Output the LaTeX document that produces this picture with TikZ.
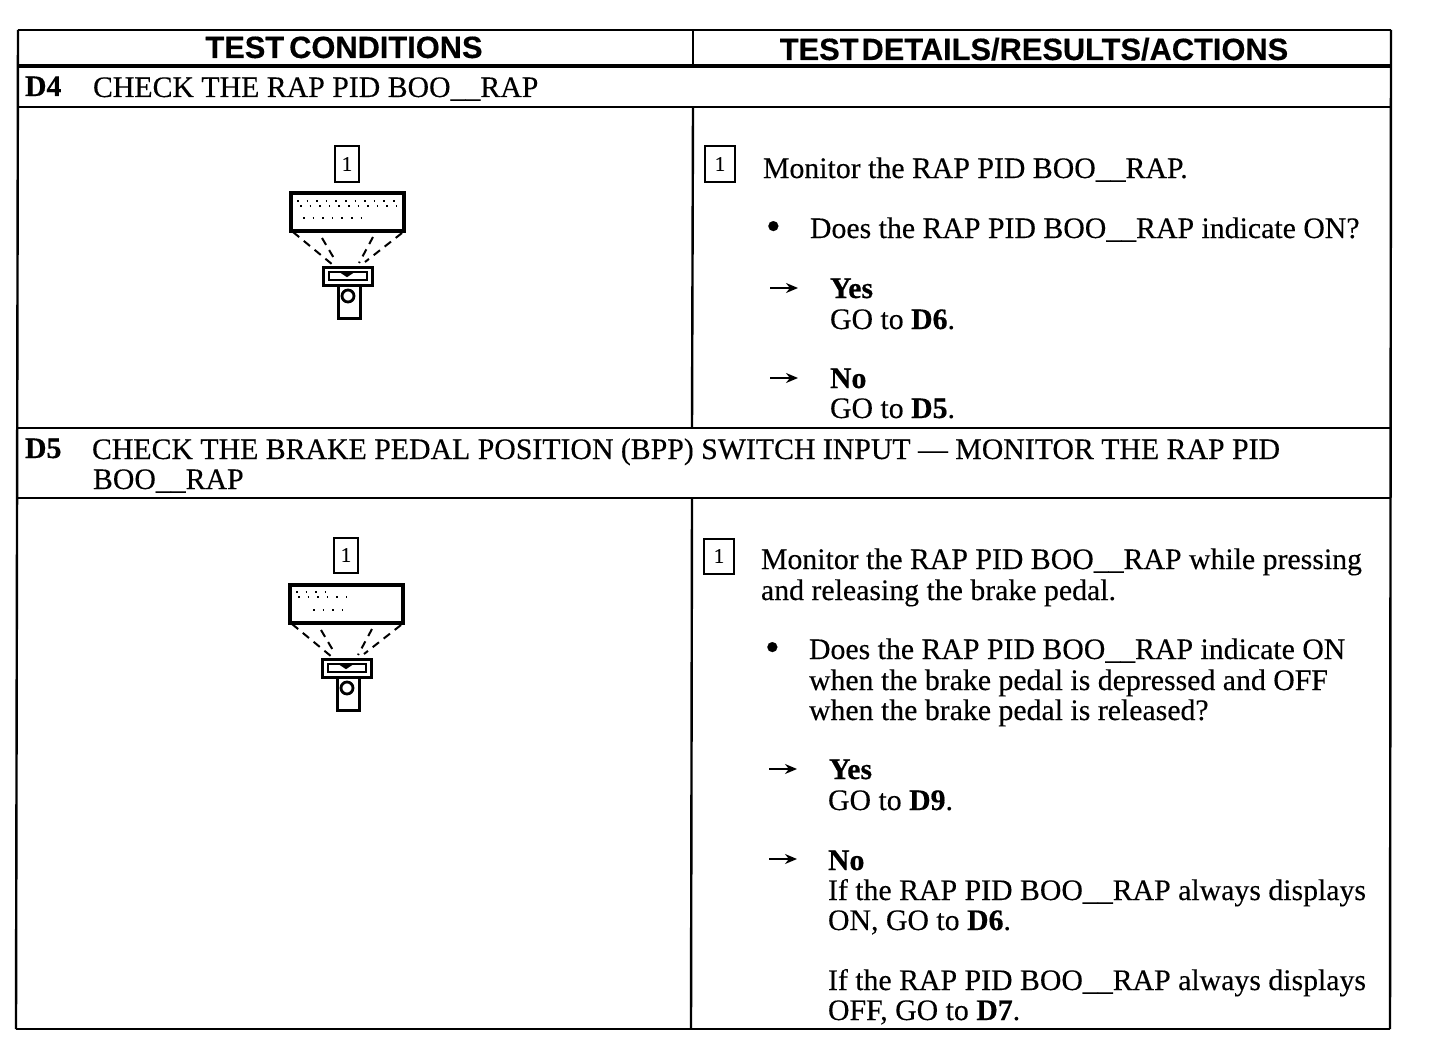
\documentclass[tikz,border=0pt]{standalone}
\usepackage{fontspec}
\setmainfont{Liberation Serif}[FakeBold=0.25, BoldFeatures={FakeBold=0.5}]
\setsansfont{Liberation Sans}[BoldFeatures={FakeBold=0.4}]
\usetikzlibrary{arrows.meta}

\tikzset{
  txt/.style={anchor=base west, inner sep=0pt, outer sep=0pt, font=\fontsize{14.9}{15}\selectfont},
  boldtxt/.style={txt, font=\fontsize{14.9}{15}\selectfont\bfseries},
  dottxt/.style={txt, font=\fontsize{21}{21}\selectfont},
  hdr/.style={anchor=base, inner sep=0pt, outer sep=0pt, font=\fontsize{15.4}{16}\selectfont\sffamily\bfseries},
  rule/.style={line width=1.2pt},
  heavyrule/.style={line width=2pt},
  numbox/.style={draw, line width=1pt, minimum width=#1, minimum height=17.5pt, inner sep=0pt, font=\fontsize{10.5}{11}\selectfont},
  goarrow/.style={line width=0.8pt, -{Stealth[length=6pt,width=5pt]}},
  toolrule/.style={line width=1.5pt},
  spots/.style={line width=0.8pt, dash pattern=on 0.8pt off 4pt}
}

% scan tool, x y of the top left of the display
\newcommand{\scantool}[2]{
  \begin{scope}[shift={(#1,#2)}]
  \draw[line width=1.6pt] (0,0) rectangle (113,38);
  \draw[line width=1pt, dash pattern=on 4pt off 3pt] (2,39) -- (42,72);
  \draw[line width=1pt, dash pattern=on 4pt off 3pt] (31,45) -- (44,67);
  \draw[line width=1pt, dash pattern=on 4pt off 3pt] (82,44) -- (68,70);
  \draw[line width=1pt, dash pattern=on 4pt off 3pt] (111,40) -- (74,69);
  \draw[toolrule] (32,74) rectangle (81,92);
  \draw[line width=1pt] (38,79) rectangle (76,87);
  \draw[line width=1pt, fill=black] (50,79) -- (56,83) -- (62,79) -- cycle;
  \draw[toolrule] (47,92) -- (47,125) -- (69,125) -- (69,92);
  \draw[line width=1.4pt] (57,103) circle (6);
  \end{scope}
}

\begin{document}
\begin{tikzpicture}[x=0.5pt, y=-0.5pt]
\useasboundingbox (0,0) rectangle (1440,1054);
%%------------ table
\draw[rule] (18,30) -- (1391,30);
\draw[rule] (18,30) -- (16,1029);
\draw[rule] (1391,30) -- (1390,1029);
\draw[rule] (16,1029) -- (1390,1029);
\draw[heavyrule] (18,66) -- (1391,66);
\draw[rule] (18,107) -- (1391,107);
\draw[rule] (17,428) -- (1391,428);
\draw[rule] (17,498) -- (1390,498);
\draw[rule] (693,30) -- (693,66);
\draw[rule] (693,107) -- (692,428);
\draw[rule] (692,498) -- (691,1029);
%%------------ heads
\node[hdr] (headleft) at (344,58) {TEST\hspace{2.5pt}CONDITIONS};
\node[hdr] (headright) at (1034,60) {TEST\hspace{1.5pt}DETAILS/RESULTS/ACTIONS};
\node[boldtxt] (dfour) at (25,96) {D4};
\node[txt] (dfourtitle) at (93,97) {CHECK THE RAP PID BOO\_\_RAP};
\node[boldtxt] (dfive) at (25,458) {D5};
\node[txt] (dfivetitle) at (92,459) {CHECK THE BRAKE PEDAL POSITION (BPP) SWITCH INPUT --- MONITOR THE RAP PID};
\node[txt] (dfivemore) at (93,489) {BOO\_\_RAP};
%%------------ left column
\node[numbox=12pt] (leftone) at (347,164) {1};
\scantool{291}{193}
\draw[spots] (297,201) -- (398,201);
\draw[spots] (300,206) -- (397,206);
\draw[spots] (303,218) -- (365,218);
\node[numbox=12pt] (lefttwo) at (346,555) {1};
\scantool{290}{585}
\draw[spots] (296,592) -- (325,592);
\draw[spots] (298,597) -- (347,597);
\draw[spots] (313,610) -- (345,610);
%%------------ D4 right column
\node[numbox=15pt] (rightone) at (720,164) {1};
\node[txt] (monitorone) at (763,178) {Monitor the RAP PID BOO\_\_RAP.};
\node[dottxt] (dotone) at (766,240) {\textbullet};
\node[txt] (askone) at (810,238) {Does the RAP PID BOO\_\_RAP indicate ON?};
\coordinate (yesonea) at (770,288);
\coordinate (yesoneb) at (798,288);
\draw[goarrow] (yesonea) -- (yesoneb);
\node[boldtxt] (yesone) at (830,298) {Yes};
\node[txt] (goyesone) at (830,329) {GO to \textbf{D6}.};
\coordinate (noonea) at (770,378);
\coordinate (nooneb) at (798,378);
\draw[goarrow] (noonea) -- (nooneb);
\node[boldtxt] (noone) at (830,388) {No};
\node[txt] (gonoone) at (830,418) {GO to \textbf{D5}.};
%%------------ D5 right column
\node[numbox=15pt] (righttwo) at (719,556) {1};
\node[txt] (monitortwo) at (761,569) {Monitor the RAP PID BOO\_\_RAP while pressing};
\node[txt] (monitormore) at (761,600) {and releasing the brake pedal.};
\node[dottxt] (dottwo) at (765,661) {\textbullet};
\node[txt] (asktwo) at (809,659) {Does the RAP PID BOO\_\_RAP indicate ON};
\node[txt] (asktwob) at (809,690) {when the brake pedal is depressed and OFF};
\node[txt] (asktwoc) at (809,720) {when the brake pedal is released?};
\coordinate (yestwoa) at (769,769);
\coordinate (yestwob) at (797,769);
\draw[goarrow] (yestwoa) -- (yestwob);
\node[boldtxt] (yestwo) at (829,779) {Yes};
\node[txt] (goyestwo) at (828,810) {GO to \textbf{D9}.};
\coordinate (notwoa) at (769,859);
\coordinate (notwob) at (797,859);
\draw[goarrow] (notwoa) -- (notwob);
\node[boldtxt] (notwo) at (828,870) {No};
\node[txt] (ifon) at (828,900) {If the RAP PID BOO\_\_RAP always displays};
\node[txt] (ifonb) at (828,930) {ON, GO to \textbf{D6}.};
\node[txt] (ifoff) at (828,990) {If the RAP PID BOO\_\_RAP always displays};
\node[txt] (ifoffb) at (828,1020) {OFF, GO to \textbf{D7}.};
\end{tikzpicture}
\end{document}
